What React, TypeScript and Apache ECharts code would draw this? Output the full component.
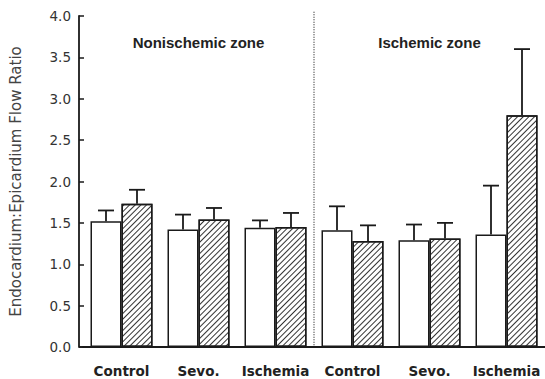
import React, { useEffect, useRef } from "react";
import * as echarts from "echarts";

const categories = ["Control", "Sevo.", "Ischemia", "Control", "Sevo.", "Ischemia"];
const openMeans = [1.52, 1.42, 1.44, 1.41, 1.29, 1.36];
const openSD = [0.13, 0.18, 0.09, 0.29, 0.19, 0.59];
const hatchedMeans = [1.73, 1.54, 1.45, 1.28, 1.31, 2.8];
const hatchedSD = [0.17, 0.14, 0.17, 0.19, 0.19, 0.8];
const zoneTitles = ["Nonischemic zone", "Ischemic zone"];
const zoneTitleCategoryIndex = [1, 4];
const zoneTitleValue = 3.68;
const dividerAfterIndex = 2;
const yTicks = { min: 0, max: 4, interval: 0.5 };
const yAxisTitle = "Endocardium:Epicardium Flow Ratio";

const BAR_W = 31;
const Y_OFFSET = 4;

function errorSeries(means: number[], sds: number[], offset: number) {
  return {
    type: "custom",
    z: 5,
    encode: { x: 0, y: 2 },
    data: means.map((m, i) => [i, m, m + sds[i]]),
    renderItem: (_p: any, api: any) => {
      const i = api.value(0);
      const base = api.coord([i, api.value(1)]);
      const top = api.coord([i, api.value(2)]);
      const x = base[0] + offset;
      const style = { stroke: "#1a1a1a", lineWidth: 1.8 };
      return {
        type: "group",
        children: [
          { type: "line", shape: { x1: x, y1: base[1], x2: x, y2: top[1] }, style },
          { type: "line", shape: { x1: x - 8, y1: top[1], x2: x + 8, y2: top[1] }, style },
        ],
      };
    },
  };
}

export default function App() {
  const ref = useRef<HTMLDivElement>(null);
  useEffect(() => {
    if (!ref.current) return;
    const chart = echarts.init(ref.current, null, { renderer: "svg" });
    chart.setOption({
      animation: false,
      backgroundColor: "#fff",
      grid: { left: 78, right: -2, top: 16, bottom: 32, containLabel: false },
      xAxis: {
        type: "category",
        data: categories,
        axisLine: { lineStyle: { color: "#1a1a1a", width: 1.8 } },
        axisTick: { show: false },
        axisLabel: {
          interval: 0,
          margin: 17,
          fontFamily: "DejaVu Sans",
          fontWeight: "bold",
          fontSize: 13.5,
          color: "#222",
        },
      },
      yAxis: {
        type: "value",
        min: yTicks.min,
        max: yTicks.max,
        interval: yTicks.interval,
        offset: Y_OFFSET,
        name: yAxisTitle,
        nameLocation: "middle",
        nameGap: 56,
        nameRotate: 90,
        nameTextStyle: { fontFamily: "DejaVu Sans", fontSize: 15, color: "#444" },
        axisLine: { show: true, lineStyle: { color: "#1a1a1a", width: 1.8 } },
        axisTick: { show: true, inside: true, length: 5, lineStyle: { color: "#1a1a1a", width: 1.5 } },
        splitLine: { show: false },
        axisLabel: {
          margin: 8,
          fontFamily: "DejaVu Sans",
          fontSize: 13.5,
          color: "#333",
          formatter: (v: number) => v.toFixed(1),
        },
      },
      series: [
        {
          type: "bar",
          data: openMeans,
          barWidth: BAR_W,
          barGap: "0%",
          itemStyle: { color: "#fff", borderColor: "#1a1a1a", borderWidth: 1.5 },
        },
        {
          type: "bar",
          data: hatchedMeans,
          barWidth: BAR_W,
          barGap: "0%",
          itemStyle: {
            color: "#fff",
            borderColor: "#1a1a1a",
            borderWidth: 1.5,
            decal: {
              symbol: "rect",
              symbolSize: 1,
              color: "#333",
              dashArrayX: [1, 0],
              dashArrayY: [1, 2.2],
              rotation: -Math.PI / 4,
            },
          },
        },
        errorSeries(openMeans, openSD, -BAR_W / 2),
        errorSeries(hatchedMeans, hatchedSD, BAR_W / 2),
      ],
    });
    const p0 = chart.convertToPixel({ xAxisIndex: 0, yAxisIndex: 0 }, [dividerAfterIndex, 0]);
    const p1 = chart.convertToPixel({ xAxisIndex: 0, yAxisIndex: 0 }, [dividerAfterIndex + 1, 4.05]);
    const c0 = chart.convertToPixel({ xAxisIndex: 0, yAxisIndex: 0 }, [0, 0]);
    const band = p1[0] - p0[0];
    const gridLeft = c0[0] - band / 2;
    const midX = (p0[0] + p1[0]) / 2;
    const yZero = p0[1];
    const yTop = p1[1];
    const titlePts = zoneTitleCategoryIndex.map((ci) =>
      chart.convertToPixel({ xAxisIndex: 0, yAxisIndex: 0 }, [ci, zoneTitleValue])
    );
    chart.setOption({
      graphic: [
        {
          type: "line",
          shape: { x1: midX, y1: yTop, x2: midX, y2: yZero },
          style: { stroke: "#333", lineWidth: 1.2, lineDash: [1, 1.5] },
        },
        {
          type: "line",
          shape: { x1: gridLeft - Y_OFFSET, y1: yZero, x2: gridLeft + 1, y2: yZero },
          style: { stroke: "#1a1a1a", lineWidth: 1.8 },
          z: 100,
        },
        ...titlePts.map((pt, k) => ({
          type: "text",
          x: pt[0],
          y: pt[1],
          style: {
            text: zoneTitles[k],
            x: 0,
            y: 0,
            align: "center",
            verticalAlign: "middle",
            fontFamily: "Liberation Sans",
            fontWeight: "bold",
            fontSize: 15,
            fill: "#222",
          },
        })),
      ],
    });
    return () => chart.dispose();
  }, []);
  return (
    <div
      ref={ref}
      style={{ position: "absolute", left: 0, top: 0, width: 545, height: 379, background: "#fff" }}
    />
  );
}
